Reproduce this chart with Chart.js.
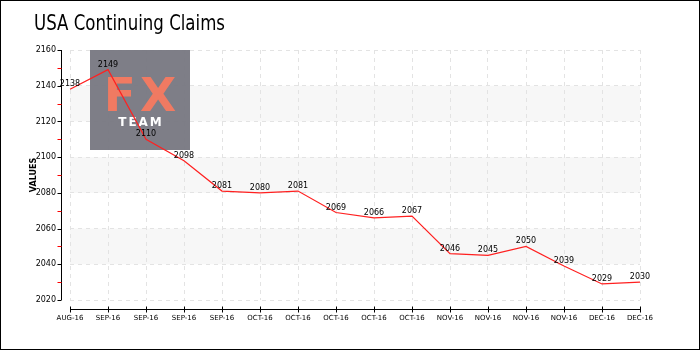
<!DOCTYPE html>
<html>
<head>
<meta charset="utf-8">
<script src="https://cdn.jsdelivr.net/npm/chart.js@4/dist/chart.umd.min.js"></script>
<style>
html,body{margin:0;padding:0;background:#fff;}
#wrap{width:700px;height:350px;position:relative;}
</style>
</head>
<body>
<div id="wrap"><canvas id="c" width="700" height="350"></canvas></div>
<script>
const titleText = "USA Continuing Claims";
const yAxisTitle = "VALUES";
const categories = ["AUG-16","SEP-16","SEP-16","SEP-16","SEP-16","OCT-16","OCT-16","OCT-16","OCT-16","OCT-16","NOV-16","NOV-16","NOV-16","NOV-16","DEC-16","DEC-16"];
const claims = [2138,2149,2110,2098,2081,2080,2081,2069,2066,2067,2046,2045,2050,2039,2029,2030];
const yMin = 2020, yMax = 2160, yStep = 20, yMinorStep = 10;
const bands = [[2120,2140],[2080,2100],[2040,2060]];

const tickFont = "DejaVu Sans";

const decor = {
  id: 'decor',
  beforeDraw(chart) {
    const {ctx, chartArea: a, scales: {x, y}} = chart;
    ctx.save();
    ctx.fillStyle = '#fff';
    ctx.fillRect(0, 0, chart.width, chart.height);
    ctx.fillStyle = '#f7f7f7';
    bands.forEach(([lo, hi]) => {
      const t = y.getPixelForValue(hi), b = y.getPixelForValue(lo);
      ctx.fillRect(a.left, t, a.right - a.left, b - t);
    });
    ctx.restore();
  },
  beforeDatasetsDraw(chart) {
    const {ctx} = chart;
    ctx.save();
    const bx = 90, by = 50, bw = 100, bh = 100;
    ctx.fillStyle = 'rgba(118,118,128,0.94)';
    ctx.fillRect(bx, by, bw, bh);
    ctx.fillStyle = '#f07a62';
    ctx.font = 'bold 47px "DejaVu Sans"';
    ctx.textAlign = 'center';
    ctx.textBaseline = 'alphabetic';
    if ('letterSpacing' in ctx) ctx.letterSpacing = '4px';
    ctx.fillText('FX', bx + 52, by + 61);
    ctx.fillStyle = '#ffffff';
    ctx.font = 'bold 12px "DejaVu Sans"';
    if ('letterSpacing' in ctx) ctx.letterSpacing = '2px';
    ctx.fillText('TEAM', bx + 51, by + 76);
    if ('letterSpacing' in ctx) ctx.letterSpacing = '0px';
    ctx.restore();
  },
  afterDatasetsDraw(chart) {
    const {ctx, chartArea: a, scales: {x, y}} = chart;
    ctx.save();
    const meta = chart.getDatasetMeta(0);
    ctx.fillStyle = '#000';
    ctx.font = '8px ' + tickFont;
    ctx.textAlign = 'center';
    ctx.textBaseline = 'alphabetic';
    meta.data.forEach((pt, i) => {
      ctx.fillText(String(claims[i]), pt.x, pt.y - 3);
    });
    const ax = Math.round(a.left) - 8.5;
    ctx.strokeStyle = '#000';
    ctx.lineWidth = 1;
    ctx.beginPath();
    ctx.moveTo(ax, y.getPixelForValue(yMax));
    ctx.lineTo(ax, y.getPixelForValue(yMin));
    ctx.stroke();
    for (let v = yMin; v <= yMax; v += yMinorStep) {
      const py = Math.round(y.getPixelForValue(v)) + 0.5;
      ctx.strokeStyle = ((v - yMin) % yStep === 0) ? '#000' : '#ff0000';
      ctx.beginPath();
      ctx.moveTo(ax - 4, py);
      ctx.lineTo(ax, py);
      ctx.stroke();
    }
    const ay = Math.round(a.bottom) + 9.5;
    ctx.strokeStyle = '#000';
    ctx.beginPath();
    ctx.moveTo(x.getPixelForValue(0), ay);
    ctx.lineTo(x.getPixelForValue(categories.length - 1), ay);
    ctx.stroke();
    categories.forEach((c, i) => {
      const px = Math.round(x.getPixelForValue(i)) + 0.5;
      ctx.beginPath();
      ctx.moveTo(px, ay - 3);
      ctx.lineTo(px, ay + 3);
      ctx.stroke();
    });
    ctx.save();
    ctx.translate(34, (a.top + a.bottom) / 2);
    ctx.rotate(-Math.PI / 2);
    ctx.font = 'bold 8px ' + tickFont;
    ctx.fillStyle = '#000';
    ctx.textAlign = 'center';
    ctx.textBaseline = 'middle';
    ctx.fillText(yAxisTitle, 0, 0);
    ctx.restore();
    ctx.save();
    ctx.font = '21px "DejaVu Sans", sans-serif';
    const w = ctx.measureText(titleText).width;
    ctx.translate(34, 30);
    ctx.scale(191 / w, 1);
    ctx.fillStyle = '#000';
    ctx.textAlign = 'left';
    ctx.textBaseline = 'alphabetic';
    ctx.fillText(titleText, 0, 0);
    ctx.restore();
    ctx.strokeStyle = '#000';
    ctx.lineWidth = 1;
    ctx.strokeRect(0.5, 0.5, chart.width - 1, chart.height - 1);
    ctx.restore();
  }
};

new Chart(document.getElementById('c'), {
  type: 'line',
  data: {
    labels: categories,
    datasets: [{
      data: claims,
      borderColor: '#ff2020',
      borderWidth: 1.2,
      pointRadius: 0,
      tension: 0,
      fill: false
    }]
  },
  options: {
    responsive: false,
    animation: false,
    devicePixelRatio: 1,
    layout: { padding: { left: 0, right: 60, top: 50, bottom: 0 } },
    plugins: { legend: { display: false }, title: { display: false }, tooltip: { enabled: false } },
    scales: {
      x: {
        offset: false,
        afterFit(s) { s.height = 50; },
        border: { display: false, dash: [4, 4] },
        grid: { color: '#e3e3e3', drawTicks: false, lineWidth: 1 },
        ticks: { autoSkip: false, maxRotation: 0, minRotation: 0, padding: 14, color: '#000', font: { family: tickFont, size: 7 } }
      },
      y: {
        min: yMin, max: yMax,
        afterFit(s) { s.width = 70; },
        border: { display: false, dash: [4, 4] },
        grid: { color: '#e3e3e3', drawTicks: false, lineWidth: 1 },
        ticks: { stepSize: yStep, padding: 14, color: '#000', font: { family: tickFont, size: 8 },
          callback: (v) => String(v) }
      }
    }
  },
  plugins: [decor]
});
</script>
</body>
</html>
